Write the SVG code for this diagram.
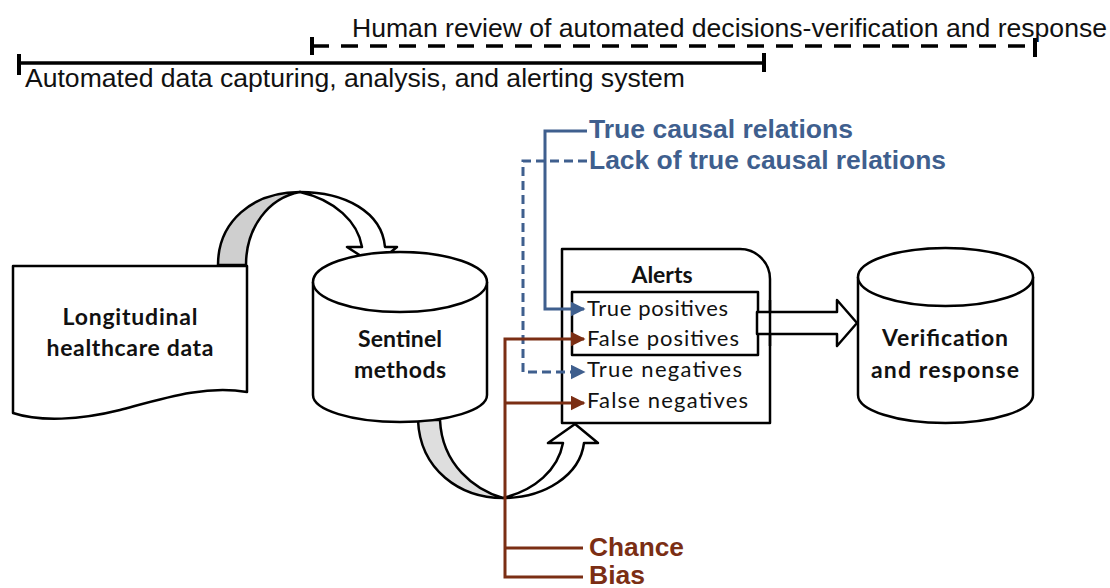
<svg xmlns="http://www.w3.org/2000/svg" width="1110" height="588" viewBox="0 0 1110 588">
  <defs>
    <style>
      .scope { font-family: "Liberation Sans", Arial, sans-serif; font-size: 25px; fill: #111; }
      .cause-b { font-family: "Liberation Sans", Arial, sans-serif; font-size: 25px; font-weight: bold; fill: #3f5f8e; }
      .cause-r { font-family: "Liberation Sans", Arial, sans-serif; font-size: 25px; font-weight: bold; fill: #7b2e14; }
      .label { font-family: Lato, "DejaVu Sans", sans-serif; font-size: 23px; font-weight: bold; fill: #111; text-anchor: middle; }
      .item { font-family: Lato, "DejaVu Sans", sans-serif; font-size: 22px; fill: #111; }
      .shape { fill: #fff; stroke: #000; stroke-width: 2.5; stroke-linejoin: round; }
      .bar { stroke: #000; stroke-width: 3.5; fill: none; }
      .tick { stroke: #000; stroke-width: 4; }
      .blue { stroke: #3f5f8e; stroke-width: 3; fill: none; }
      .red { stroke: #7b2e14; stroke-width: 3; fill: none; }
    </style>
    <marker id="ahBlue" viewBox="0 0 10 10" refX="9" refY="5" markerWidth="5" markerHeight="5" orient="auto" markerUnits="strokeWidth">
      <path d="M0,0 L10,5 L0,10 Z" fill="#3f5f8e"/>
    </marker>
    <marker id="ahRed" viewBox="0 0 10 10" refX="9" refY="5" markerWidth="5" markerHeight="5" orient="auto" markerUnits="strokeWidth">
      <path d="M0,0 L10,5 L0,10 Z" fill="#7b2e14"/>
    </marker>
  </defs>

  <rect width="1110" height="588" fill="#fff"/>

  <!-- scope bars across the top -->
  <g id="scope-bars">
    <line class="bar" x1="312" y1="46" x2="1035" y2="46" stroke-dasharray="17 12"/>
    <line class="tick" x1="312" y1="37" x2="312" y2="55"/>
    <line class="tick" x1="1035" y1="38" x2="1035" y2="57"/>
    <text class="scope" x="352" y="37" textLength="755" lengthAdjust="spacingAndGlyphs">Human review of automated decisions-verification and response</text>
    <line class="bar" x1="19" y1="63" x2="764" y2="63"/>
    <line class="tick" x1="19" y1="54" x2="19" y2="75"/>
    <line class="tick" x1="764" y1="53" x2="764" y2="72"/>
    <text class="scope" x="25" y="87" textLength="660" lengthAdjust="spacingAndGlyphs">Automated data capturing, analysis, and alerting system</text>
  </g>

  <!-- curved ribbon arrows -->
  <g id="flow-data-to-sentinel">
    <path class="shape" d="M218,265 C218,222 252,192 300,192 C268,198 246,228 246,265 Z" style="fill:#cfcfcf"/>
    <path class="shape" d="M300,192 C345,192 382,212 385,247 L397,247 L375,265 L347,247 L362,247 C358,222 335,200 300,192 Z"/>
  </g>

  <!-- data document -->
  <g id="node-data">
    <path class="shape" d="M13,266 H247 V392 C205,385 165,398 120,410 C80,420 40,422 13,413 Z"/>
    <text class="label" x="130" y="325" textLength="135" lengthAdjust="spacing">Longitudinal</text>
    <text class="label" x="130" y="356" textLength="167" lengthAdjust="spacing">healthcare data</text>
  </g>

  <g id="flow-sentinel-to-alerts">
    <path class="shape" d="M418,420 C420,470 460,498 503,498 C475,490 442,465 440,420 Z" style="fill:#dedede"/>
    <path class="shape" d="M503,498 C545,498 580,475 584,443 L598,443 L575,424 L548,443 L563,443 C558,470 535,490 503,498 Z"/>
  </g>

  <!-- sentinel methods cylinder -->
  <g id="node-sentinel">
    <path class="shape" d="M313,282 V395 A87,27 0 0 0 487,395 V282"/>
    <ellipse class="shape" cx="400" cy="282" rx="87" ry="30"/>
    <text class="label" x="400" y="347" textLength="84" lengthAdjust="spacing">Sentinel</text>
    <text class="label" x="400" y="378" textLength="92" lengthAdjust="spacing">methods</text>
  </g>

  <!-- alerts -->
  <g id="node-alerts">
    <path class="shape" d="M562,249 H740 A30,30 0 0 1 770,279 V423 H562 Z"/>
    <text class="label" x="662" y="283" textLength="61" lengthAdjust="spacing">Alerts</text>
    <rect class="shape" x="572" y="292" width="186" height="63"/>
    <text class="item" x="587" y="316" textLength="141" lengthAdjust="spacing">True positives</text>
    <text class="item" x="587" y="346" textLength="152" lengthAdjust="spacing">False positives</text>
    <text class="item" x="587" y="377" textLength="155" lengthAdjust="spacing">True negatives</text>
    <text class="item" x="587" y="408" textLength="161" lengthAdjust="spacing">False negatives</text>
  </g>

  <!-- block arrow to verification -->
  <g id="flow-alerts-to-verification">
    <path class="shape" d="M757,312 H837 V300 L857,323 L837,346 V334 H757 Z"/>
    <line x1="770" y1="300" x2="770" y2="346" stroke="#000" stroke-width="2.5"/>
  </g>

  <!-- verification cylinder -->
  <g id="node-verification">
    <path class="shape" d="M858,277 V395 A87.5,28 0 0 0 1033,395 V277"/>
    <ellipse class="shape" cx="945.5" cy="277" rx="87.5" ry="29"/>
    <text class="label" x="945" y="346" textLength="126" lengthAdjust="spacing">Verification</text>
    <text class="label" x="945" y="378" textLength="148" lengthAdjust="spacing">and response</text>
  </g>

  <!-- causal explanation connectors -->
  <g id="connectors">
    <path class="blue" d="M587,131 H545 V309 H584" marker-end="url(#ahBlue)"/>
    <path class="blue" d="M587,161 H523 V372 H584" stroke-dasharray="9 5" marker-end="url(#ahBlue)"/>
    <path class="red" d="M583,577 H505 V339 H584" marker-end="url(#ahRed)"/>
    <path class="red" d="M505,403 H584" marker-end="url(#ahRed)"/>
    <path class="red" d="M505,548 H583"/>
  </g>

  <g id="cause-labels">
    <text class="cause-b" x="589" y="138" textLength="264" lengthAdjust="spacingAndGlyphs">True causal relations</text>
    <text class="cause-b" x="589" y="169" textLength="357" lengthAdjust="spacingAndGlyphs">Lack of true causal relations</text>
    <text class="cause-r" x="589" y="556" textLength="95" lengthAdjust="spacingAndGlyphs">Chance</text>
    <text class="cause-r" x="589" y="584" textLength="56" lengthAdjust="spacingAndGlyphs">Bias</text>
  </g>
</svg>
